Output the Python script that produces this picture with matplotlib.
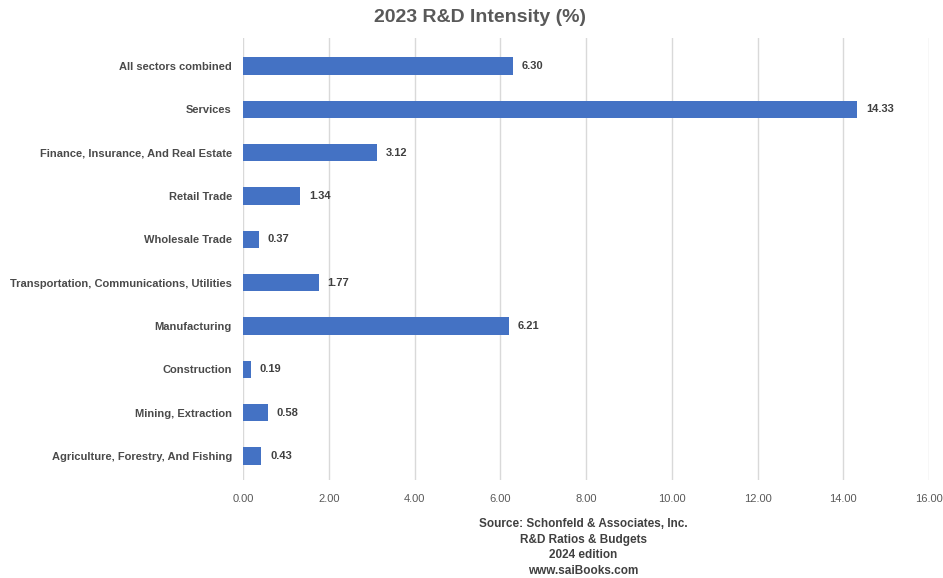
import matplotlib.pyplot as plt

plt.rcParams['font.family'] = ['Liberation Sans', 'DejaVu Sans']

sectors = ['Agriculture, Forestry, And Fishing', 'Mining, Extraction', 'Construction',
           'Manufacturing', 'Transportation, Communications, Utilities', 'Wholesale Trade',
           'Retail Trade', 'Finance, Insurance, And Real Estate', 'Services',
           'All sectors combined']
intensity = [0.43, 0.58, 0.19, 6.21, 1.77, 0.37, 1.34, 3.12, 14.33, 6.30]
xticks = [0, 2, 4, 6, 8, 10, 12, 14, 16]
footer = ['Source: Schonfeld & Associates, Inc.', 'R&D Ratios & Budgets',
          '2024 edition', 'www.saiBooks.com']

fig = plt.figure(figsize=(9.43, 5.78), dpi=100)
ax = fig.add_axes([243 / 943, 1 - 480 / 578, (929 - 243) / 943, (480 - 38) / 578])

ypos = list(range(len(sectors)))
ax.barh(ypos, intensity, height=0.4, color='#4472C4', zorder=3)
for y, v in zip(ypos, intensity):
    ax.text(v + 0.2, y, f'{v:.2f}', va='center', ha='left', fontsize=8,
            fontweight='bold', color='#404040')

ax.set_xlim(0, 16)
ax.set_ylim(-0.554, 9.646)
ax.set_xticks(xticks)
ax.set_xticklabels([f'{t:.2f}' for t in xticks], fontsize=8, color='#595959')
ax.set_yticks(ypos)
ax.set_yticklabels(sectors, fontsize=8, fontweight='bold', color='#4a4a4a')
ax.tick_params(axis='y', length=0, pad=8)
ax.tick_params(axis='x', length=0, pad=10)
ax.grid(axis='x', color='#D9D9D9', linewidth=1, zorder=0)
for s in ax.spines.values():
    s.set_visible(False)

fig.text(480 / 943, 1 - 18 / 578, '2023 R&D Intensity (%)', ha='center', va='center',
         fontsize=14, fontweight='bold', color='#595959')
for i, line in enumerate(footer):
    fig.text(583 / 943, 1 - (524 + 15.5 * i) / 578, line, ha='center', va='center',
             fontsize=8.5, fontweight='bold', color='#404040')

fig.savefig('out.png', dpi=100)
